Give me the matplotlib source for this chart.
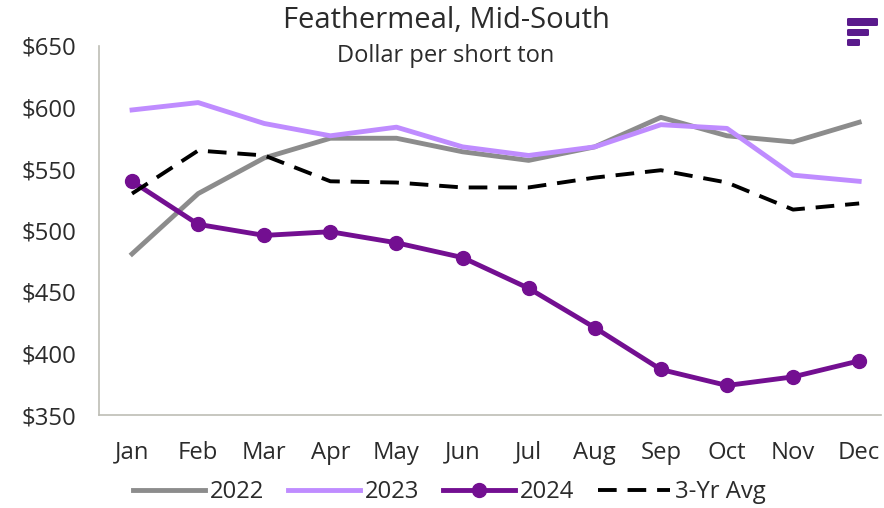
import matplotlib
matplotlib.use("Agg")
import matplotlib.pyplot as plt
from matplotlib.patches import FancyBboxPatch

months = ["Jan", "Feb", "Mar", "Apr", "May", "Jun", "Jul", "Aug", "Sep", "Oct", "Nov", "Dec"]
y2022 = [481, 530, 559, 575, 575, 564, 557, 568, 592, 577, 572, 588]
y2023 = [598, 604, 587, 577, 584, 568, 561, 568, 586, 583, 545, 540]
y2024 = [540, 505, 496, 499, 490, 478, 453, 421, 387, 374, 381, 394]
avg3 = [530, 565, 561, 540, 539, 535, 535, 543, 549, 539, 517, 522]
yticks = [350, 400, 450, 500, 550, 600, 650]

plt.rcParams["font.family"] = "Open Sans"
text_color = "#2b2b2b"

fig = plt.figure(figsize=(8.84, 5.08), dpi=100)
ax = fig.add_axes([99 / 884, 1 - 415 / 508, (881 - 99) / 884, (415 - 46) / 508])

ax.plot(months, y2022, color="#8c8c8c", linewidth=3.5, label="2022")
ax.plot(months, y2023, color="#bf8cff", linewidth=3.5, label="2023")
ax.plot(months, y2024, color="#730f91", linewidth=3.5, marker="o", markersize=10, label="2024")
ax.plot(months, avg3, color="black", linewidth=2.8, linestyle=(0, (4.8, 2.8)), label="3-Yr Avg")

ax.set_xlim(-0.5, 11.33)
ax.set_ylim(350, 650)
ax.set_yticks(yticks)
ax.set_yticklabels([f"${v}" for v in yticks])
ax.tick_params(axis="both", length=0, labelsize=17.2, labelcolor=text_color)
ax.tick_params(axis="x", pad=18.5)
ax.tick_params(axis="y", pad=16.5)

for side in ["top", "right"]:
    ax.spines[side].set_visible(False)
for side in ["left", "bottom"]:
    ax.spines[side].set_color("#bdbdb5")
    ax.spines[side].set_linewidth(1.2)

fig.text(446 / 884, 1 - 20 / 508, "Feathermeal, Mid-South", ha="center", va="center",
         fontsize=21, color=text_color)
fig.text(446 / 884, 1 - 56 / 508, "Dollar per short ton", ha="center", va="center",
         fontsize=17, color=text_color)

fig.legend(loc="center", bbox_to_anchor=(449.5 / 884, 1 - 492 / 508), ncol=4, frameon=False,
           fontsize=17.2, labelcolor=text_color, handlelength=3.0, columnspacing=1.0,
           handletextpad=0.21, borderpad=0)

# logo in the top right corner
for x0, x1, y0, y1 in [(847, 878, 18, 26), (847, 869, 29, 36), (847, 860, 39, 46)]:
    fig.add_artist(FancyBboxPatch((x0 / 884, 1 - y1 / 508), (x1 - x0) / 884, (y1 - y0) / 508,
                                  boxstyle="round,pad=0,rounding_size=0.002",
                                  transform=fig.transFigure, facecolor="#5a1a8c", edgecolor="none"))

plt.savefig("out.png", dpi=100)
